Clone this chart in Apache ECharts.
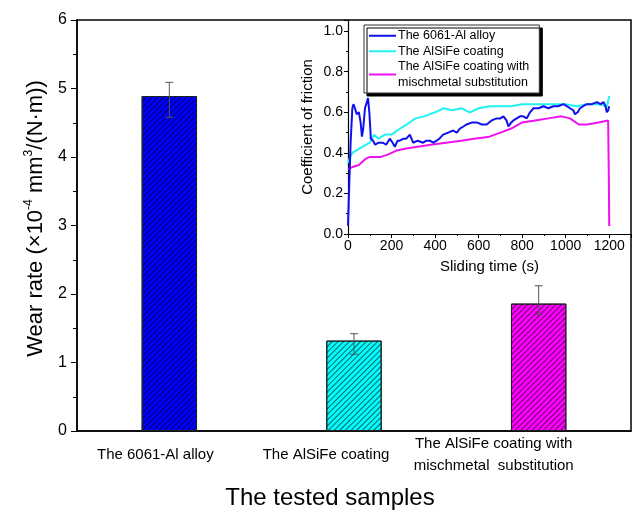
<!DOCTYPE html>
<html>
<head>
<meta charset="utf-8">
<script src="https://cdn.jsdelivr.net/npm/echarts@6/dist/echarts.min.js"></script>
<style>
  html, body { margin: 0; padding: 0; background: #fff; }
</style>
</head>
<body>
<div id="chart" style="width: 637px; height: 510px"></div>
<script>
// main bar chart data
const categories = [
  "The 6061-Al alloy",
  "The AlSiFe coating",
  "The AlSiFe coating with\nmischmetal  substitution",
];
const wearRate = [4.89, 1.32, 1.86];
const errLow = [4.58, 1.12, 1.7];
const errHigh = [5.09, 1.42, 2.12];
const barColors = ["#0000ff", "#00ffff", "#ff00ff"];
const wearTicks = [0, 1, 2, 3, 4, 5, 6];

// inset friction curves
const seriesNames = [
  "The 6061-Al alloy",
  "The AlSiFe coating",
  "The AlSiFe coating with mischmetal substitution",
];
const alloyTime = [0, 5, 12, 20, 25, 32, 40, 50, 58, 64, 70, 78, 85, 92, 98, 105, 115, 125, 140, 161, 175, 192, 205, 215, 228, 238, 255, 268, 284, 299, 320, 345, 360, 376, 392, 407, 420, 437, 460, 483, 500, 514, 530, 545, 570, 591, 615, 637, 660, 683, 700, 714, 728, 737, 750, 760, 775, 790, 805, 821, 836, 852, 875, 898, 920, 944, 965, 990, 1005, 1020, 1035, 1043, 1055, 1066, 1080, 1097, 1120, 1143, 1160, 1174, 1183, 1189, 1195, 1200];
const alloyCof = [0.04, 0.22, 0.45, 0.62, 0.64, 0.62, 0.59, 0.6, 0.55, 0.48, 0.52, 0.62, 0.62, 0.67, 0.6, 0.47, 0.46, 0.44, 0.45, 0.45, 0.44, 0.47, 0.45, 0.43, 0.46, 0.46, 0.47, 0.47, 0.49, 0.45, 0.46, 0.45, 0.46, 0.46, 0.45, 0.46, 0.47, 0.49, 0.5, 0.51, 0.5, 0.52, 0.53, 0.54, 0.55, 0.55, 0.54, 0.54, 0.56, 0.57, 0.57, 0.58, 0.56, 0.53, 0.55, 0.56, 0.57, 0.58, 0.58, 0.57, 0.6, 0.62, 0.62, 0.63, 0.62, 0.63, 0.63, 0.64, 0.63, 0.62, 0.61, 0.59, 0.6, 0.62, 0.63, 0.64, 0.64, 0.65, 0.64, 0.65, 0.63, 0.6, 0.61, 0.63];
const coatingTime = [0, 10, 20, 50, 100, 120, 140, 170, 200, 240, 270, 310, 350, 400, 440, 480, 520, 560, 600, 650, 700, 750, 800, 850, 900, 950, 1000, 1050, 1100, 1150, 1190, 1200];
const coatingCof = [0.35, 0.38, 0.4, 0.42, 0.45, 0.49, 0.47, 0.49, 0.49, 0.52, 0.54, 0.57, 0.58, 0.6, 0.62, 0.61, 0.62, 0.6, 0.62, 0.63, 0.63, 0.63, 0.64, 0.64, 0.64, 0.64, 0.64, 0.63, 0.64, 0.64, 0.63, 0.68];
const mischTime = [0, 20, 50, 80, 100, 150, 180, 220, 260, 320, 380, 450, 520, 580, 650, 700, 750, 800, 860, 920, 980, 1020, 1060, 1100, 1150, 1195, 1198, 1200];
const mischCof = [0.32, 0.33, 0.34, 0.37, 0.38, 0.38, 0.39, 0.41, 0.42, 0.43, 0.44, 0.45, 0.46, 0.47, 0.48, 0.5, 0.52, 0.55, 0.56, 0.57, 0.58, 0.57, 0.54, 0.54, 0.55, 0.56, 0.3, 0.04];
const lineColors = ["#1010ee", "#22f2f2", "#f010f0"];

const zip = (xs, ys) => xs.map((x, i) => [x, ys[i]]);

// labels sit a bit left of the bars in the original
const labelShift = [28, 56, 90];

const hatch = {
  symbol: "rect",
  symbolSize: 1,
  dashArrayX: [1, 0],
  dashArrayY: [1, 3],
  rotation: -Math.PI / 4,
  color: "rgba(0,0,0,0.6)",
};

const chart = echarts.init(document.getElementById("chart"));
const font = "Liberation Sans, Arial, sans-serif";

const option = {
  animation: false,
  textStyle: { fontFamily: font, color: "#000" },
  grid: [
    { left: 77, right: 6, top: 20, bottom: 79, outerBoundsMode: "none", containLabel: false, show: true, borderColor: "#000", borderWidth: 1.5, backgroundColor: "transparent" },
    { left: 348, right: 6, top: 20, bottom: 276, outerBoundsMode: "none", containLabel: false },
  ],
  legend: {
    data: seriesNames,
    orient: "vertical",
    left: 364,
    top: 25,
    itemWidth: 27,
    itemHeight: 2,
    itemGap: 0,
    icon: "rect",
    padding: [3, 10, 3, 5],
    backgroundColor: "#fff",
    borderColor: "#333",
    borderWidth: 1,
    shadowColor: "#000",
    shadowOffsetX: 3,
    shadowOffsetY: 3,
    shadowBlur: 0,
    formatter: (n) => n.replace(" with ", " with\n"),
    textStyle: { fontSize: 12.5, color: "#000", lineHeight: 15.5, padding: [0, 0, 0, -3] },
  },
  xAxis: [
    {
      type: "category",
      gridIndex: 0,
      data: categories,
      axisLine: { lineStyle: { color: "#000", width: 1.5 } },
      axisTick: { show: false },
      axisLabel: {
        color: "#000",
        margin: 24,
        verticalAlign: "middle",
        interval: 0,
        formatter: (v, i) => `{l${i}|${v}}`,
        rich: {
          l0: { fontSize: 15, lineHeight: 22, padding: [0, labelShift[0], 0, 0] },
          l1: { fontSize: 15, lineHeight: 22, padding: [0, labelShift[1], 0, 0] },
          l2: { fontSize: 15, lineHeight: 22, padding: [0, labelShift[2], 0, 0] },
        },
      },
      name: "The tested samples",
      nameLocation: "middle",
      nameGap: 55,
      nameTextStyle: { fontSize: 24, color: "#000", padding: [0, 48, 0, 0] },
    },
    {
      type: "value",
      gridIndex: 1,
      min: 0,
      max: 1300,
      interval: 200,
      axisLine: { onZero: false, lineStyle: { color: "#000", width: 1.2 } },
      axisTick: { length: 4, lineStyle: { color: "#000" } },
      minorTick: { show: true, splitNumber: 2, length: 2, lineStyle: { color: "#000" } },
      splitLine: { show: false },
      axisLabel: {
        color: "#000",
        fontSize: 14,
        margin: 5,
        formatter: (v) => (v > 1200 ? "" : v),
      },
      name: "Sliding time (s)",
      nameLocation: "middle",
      nameGap: 25,
      nameTextStyle: { fontSize: 15, color: "#000" },
    },
  ],
  yAxis: [
    {
      type: "value",
      gridIndex: 0,
      min: wearTicks[0],
      max: wearTicks[wearTicks.length - 1],
      interval: 1,
      axisLine: { show: true, lineStyle: { color: "#000", width: 1.5 } },
      axisTick: { show: true, length: 6, lineStyle: { color: "#000" } },
      minorTick: { show: true, splitNumber: 2, length: 4, lineStyle: { color: "#000" } },
      splitLine: { show: false },
      axisLabel: { color: "#000", fontSize: 16, margin: 10 },
      name: "{n|Wear rate (×10}{s|-4}{n| mm}{s|3}{n|/(N·m))}",
      nameLocation: "middle",
      nameGap: 30,
      nameTextStyle: {
        padding: [0, 0, 0, 14],
        rich: {
          n: { fontSize: 22, color: "#000", lineHeight: 24, verticalAlign: "bottom" },
          s: { fontSize: 12, color: "#000", lineHeight: 24, verticalAlign: "top" },
        },
      },
    },
    {
      type: "value",
      gridIndex: 1,
      min: 0,
      max: 1.055,
      interval: 0.2,
      axisLine: { show: true, lineStyle: { color: "#000", width: 1.2 } },
      axisTick: { length: 4, lineStyle: { color: "#000" } },
      minorTick: { show: true, splitNumber: 2, length: 2, lineStyle: { color: "#000" } },
      splitLine: { show: false },
      axisLabel: {
        color: "#000",
        fontSize: 14,
        margin: 5,
        showMaxLabel: false,
        formatter: (v) => (v > 1.01 ? "" : v.toFixed(1)),
      },
      name: "Coefficient of friction",
      nameLocation: "middle",
      nameGap: 33,
      nameTextStyle: { fontSize: 15, color: "#000" },
    },
  ],
  series: [
    {
      type: "bar",
      xAxisIndex: 0,
      yAxisIndex: 0,
      barWidth: "30%",
      data: wearRate.map((v, i) => ({
        value: v,
        itemStyle: { color: barColors[i], borderColor: "#222", borderWidth: 1, decal: hatch },
      })),
    },
    {
      type: "custom",
      xAxisIndex: 0,
      yAxisIndex: 0,
      data: errLow.map((lo, i) => [i, lo, errHigh[i]]),
      renderItem: (params, api) => {
        const top = api.coord([api.value(0), api.value(2)]);
        const bot = api.coord([api.value(0), api.value(1)]);
        const w = 4;
        const style = { stroke: "#555", lineWidth: 1 };
        return {
          type: "group",
          children: [
            { type: "line", shape: { x1: top[0], y1: top[1], x2: bot[0], y2: bot[1] }, style },
            { type: "line", shape: { x1: top[0] - w, y1: top[1], x2: top[0] + w, y2: top[1] }, style },
            { type: "line", shape: { x1: bot[0] - w, y1: bot[1], x2: bot[0] + w, y2: bot[1] }, style },
          ],
        };
      },
      z: 5,
    },
    {
      name: seriesNames[0],
      type: "line",
      xAxisIndex: 1,
      yAxisIndex: 1,
      showSymbol: false,
      symbol: "none",
      color: lineColors[0],
      lineStyle: { width: 2, color: lineColors[0] },
      data: zip(alloyTime, alloyCof),
      z: 4,
    },
    {
      name: seriesNames[1],
      type: "line",
      xAxisIndex: 1,
      yAxisIndex: 1,
      showSymbol: false,
      symbol: "none",
      color: lineColors[1],
      lineStyle: { width: 2, color: lineColors[1] },
      data: zip(coatingTime, coatingCof),
      z: 3,
    },
    {
      name: seriesNames[2],
      type: "line",
      xAxisIndex: 1,
      yAxisIndex: 1,
      showSymbol: false,
      symbol: "none",
      color: lineColors[2],
      lineStyle: { width: 2, color: lineColors[2] },
      data: zip(mischTime, mischCof),
      z: 3,
    },
  ],
};

chart.setOption(option);
</script>
</body>
</html>
